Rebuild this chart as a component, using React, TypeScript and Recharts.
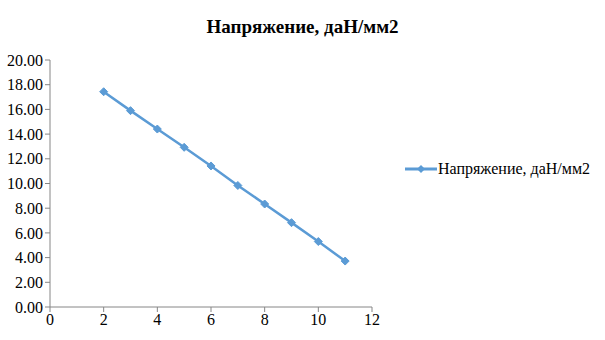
import { LineChart, Line, XAxis, YAxis } from "recharts";

const xValues = [2, 3, 4, 5, 6, 7, 8, 9, 10, 11];
const stress = [17.43, 15.9, 14.41, 12.93, 11.42, 9.84, 8.34, 6.83, 5.3, 3.72];
const xTicks = [0, 2, 4, 6, 8, 10, 12];
const yTicks = [0, 2, 4, 6, 8, 10, 12, 14, 16, 18, 20];
const seriesName = "Напряжение, даН/мм2";

const data = xValues.map((x, i) => ({ x: x, value: stress[i] }));

const COLOR = "#5B9BD5";
const AXIS = "#868686";
const FONT = "Liberation Serif, serif";

function Diamond(props: any) {
  const { cx, cy, index } = props;
  if (cx == null || cy == null) return null;
  const r = 4;
  return (
    <polygon
      key={"d-" + index}
      points={`${cx},${cy - r} ${cx + r},${cy} ${cx},${cy + r} ${cx - r},${cy}`}
      fill={COLOR}
      stroke={COLOR}
    />
  );
}

export default function App() {
  return (
    <div style={{ position: "absolute", left: 0, top: 0, width: 605, height: 340, background: "#fff", fontFamily: FONT }}>
      <div
        style={{
          position: "absolute",
          top: 16,
          left: 0,
          width: 605,
          textAlign: "center",
          fontWeight: "bold",
          fontSize: 19,
        }}
      >
        {seriesName}
      </div>
      <div
        style={{
          position: "absolute",
          left: 404,
          top: 160,
          display: "flex",
          alignItems: "center",
          fontSize: 16,
          color: "#000",
        }}
      >
        <svg width={34} height={12} style={{ marginRight: 0 }}>
          <line x1={1} y1={6} x2={33} y2={6} stroke={COLOR} strokeWidth={3} />
          <polygon points="17,2 21,6 17,10 13,6" fill={COLOR} />
        </svg>
        <span>{seriesName}</span>
      </div>
      <LineChart
        width={605}
        height={340}
        data={data}
        style={{ fontFamily: FONT }}
        margin={{ top: 60, right: 233, left: 0, bottom: 0 }}
      >
        <XAxis
          dataKey="x"
          type="number"
          domain={[0, 12]}
          ticks={xTicks}
          height={33}
          stroke={AXIS}
          tickSize={5}
          tick={{ fill: "#000", fontFamily: FONT, fontSize: 16 }}
        />
        <YAxis
          type="number"
          domain={[0, 20]}
          ticks={yTicks}
          width={50}
          stroke={AXIS}
          tickSize={5}
          tickFormatter={(v: number) => v.toFixed(2)}
          tick={{ fill: "#000", fontFamily: FONT, fontSize: 16 }}
        />
        <Line
          dataKey="value"
          name={seriesName}
          stroke={COLOR}
          strokeWidth={2.5}
          dot={Diamond}
          activeDot={false}
          isAnimationActive={false}
        />
      </LineChart>
    </div>
  );
}
